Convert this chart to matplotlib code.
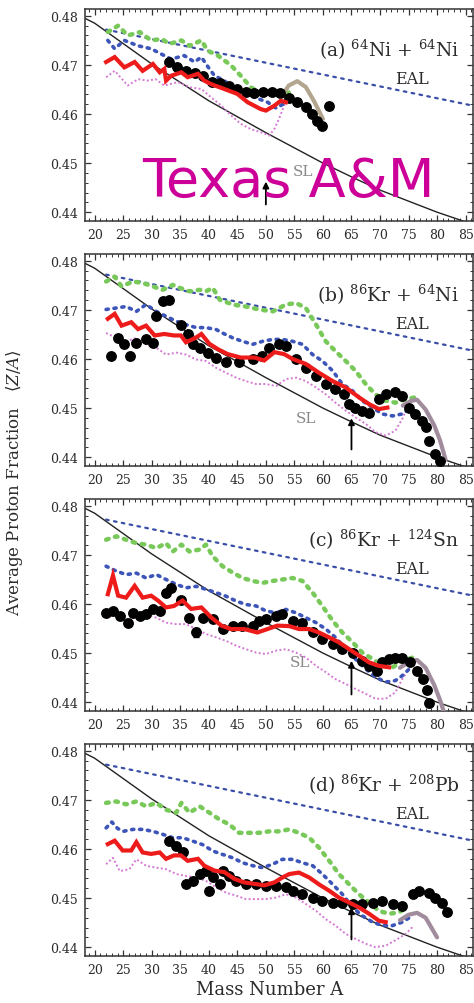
import matplotlib
matplotlib.use("Agg")
import matplotlib.pyplot as plt
import numpy as np

plt.rcParams['font.family'] = ['DejaVu Serif']
plt.rcParams['mathtext.fontset'] = 'dejavuserif'

# ---- data: (mass number A, <Z/A>) ----
a_exp = [(33.1, 0.4707), (34.5, 0.4695), (36, 0.4688), (37.5, 0.4683), (39, 0.4678),
         (40.5, 0.4665), (42, 0.4664), (43.5, 0.4658), (45, 0.4650), (46.5, 0.4645),
         (48, 0.4643), (49.5, 0.4645), (51, 0.4645), (52.5, 0.4643), (54, 0.4632),
         (55.5, 0.4625), (57, 0.4615), (58, 0.4600), (59, 0.4585), (59.8, 0.4575),
         (61, 0.4617)]
a_red = [(22, 0.4706), (23.5, 0.4716), (25.2, 0.4695), (27, 0.4706), (28.4, 0.4688),
         (30.2, 0.4702), (31.4, 0.4685), (32.2, 0.4692), (32.5, 0.4668), (33.4, 0.4678),
         (35.2, 0.4685), (36.3, 0.4675), (38.1, 0.4682), (39.2, 0.4668), (40.4, 0.4661),
         (42.7, 0.4651), (45, 0.4641), (46.8, 0.4624), (49.1, 0.4610), (50, 0.4607),
         (51.5, 0.4617), (52.6, 0.4627), (53.5, 0.4624)]
a_green = [(22.3, 0.4767), (24.1, 0.4780), (25.8, 0.4760), (27.9, 0.4767), (29.9, 0.4750),
           (31.7, 0.4753), (33.1, 0.4743), (35.2, 0.4750), (36.6, 0.4739), (38.7, 0.4750),
           (39.8, 0.4729), (41.6, 0.4719), (43.9, 0.4699), (45.6, 0.4678), (47.4, 0.4654),
           (49.1, 0.4644), (50.9, 0.4641), (52.6, 0.4637), (54, 0.4644)]
a_blue = [(22.3, 0.4750), (23.5, 0.4733), (25.2, 0.4750), (27.6, 0.4739), (29.9, 0.4733),
          (31.7, 0.4722), (33.4, 0.4712), (35.7, 0.4719), (37.5, 0.4706), (38.7, 0.4716),
          (39.8, 0.4697), (41, 0.4678), (42.7, 0.4668), (44.5, 0.4651), (46.2, 0.4644),
          (48, 0.4634), (50.3, 0.4624), (51.8, 0.4612), (53, 0.4620), (54, 0.4630)]
a_mag = [(22, 0.4675), (23.5, 0.4688), (25.8, 0.4658), (27.6, 0.4671), (29.3, 0.4668),
         (30.7, 0.4671), (32.2, 0.4658), (34.6, 0.4665), (36.9, 0.4654), (38.7, 0.4651),
         (40.4, 0.4634), (42.2, 0.4617), (43.9, 0.4597), (45.6, 0.4580), (47.4, 0.4569),
         (49.1, 0.4563), (50.6, 0.4556), (51.5, 0.4570), (52.3, 0.4590), (53.2, 0.4617),
         (54.1, 0.4641)]
a_proj = [(53, 0.4640), (54, 0.4658), (55.5, 0.4667), (57, 0.4655), (58.5, 0.4625), (60, 0.4590)]

b_exp = [(22.9, 0.4606), (24.1, 0.4643), (25.2, 0.4630), (26.1, 0.4606), (27.3, 0.4633),
         (29, 0.4640), (30.2, 0.4633), (30.8, 0.4687), (31.9, 0.4718), (33.1, 0.4721),
         (35.2, 0.4670), (36.3, 0.4650), (37.2, 0.4630), (38.4, 0.4623), (39.8, 0.4613),
         (41.3, 0.4603), (43, 0.4593), (45.3, 0.4593), (47.7, 0.4600), (49.4, 0.4606),
         (50.6, 0.4623), (52.3, 0.4630), (53.5, 0.4626), (55.3, 0.4600), (57, 0.4582),
         (58.8, 0.4566), (60.5, 0.4549), (62.2, 0.4539), (63.7, 0.4528), (64.6, 0.4508),
         (65.7, 0.4501), (66.9, 0.4495), (68.1, 0.4491), (69.8, 0.4518), (71, 0.4529),
         (72.7, 0.4532), (73.9, 0.4525), (75.1, 0.4501), (76.2, 0.4488), (77.4, 0.4474),
         (78, 0.4461), (78.6, 0.4433), (79.7, 0.4406), (80.5, 0.4392)]
b_red = [(22.3, 0.4682), (23.5, 0.4692), (24.7, 0.4668), (26.4, 0.4675), (27.6, 0.4661),
         (29, 0.4668), (30.5, 0.4648), (32.2, 0.4651), (33.9, 0.4648), (35.1, 0.4648),
         (36, 0.4634), (37.8, 0.4644), (38.7, 0.4651), (40.1, 0.4631), (41.6, 0.4620),
         (43.3, 0.4610), (45.6, 0.4603), (48, 0.4603), (49.7, 0.4597), (51.5, 0.4614),
         (53.2, 0.4610), (54.7, 0.4600), (57, 0.4590), (59.3, 0.4572), (61.7, 0.4555),
         (64, 0.4542), (66.3, 0.4522), (68.1, 0.4508), (69.8, 0.4498), (71.3, 0.4501)]
b_green = [(22, 0.4758), (23.5, 0.4768), (24.7, 0.4748), (26.7, 0.4758), (28.4, 0.4755),
           (30.2, 0.4748), (31.9, 0.4741), (33.7, 0.4751), (34.9, 0.4745), (36.6, 0.4738),
           (38.4, 0.4741), (39.5, 0.4738), (40.7, 0.4745), (41.9, 0.4721), (44.2, 0.4711),
           (46.5, 0.4707), (48.8, 0.4701), (51.2, 0.4697), (53.5, 0.4711), (55.3, 0.4714),
           (57, 0.4704), (58.8, 0.4670), (60.5, 0.4636), (62.2, 0.4616), (64, 0.4596),
           (65.7, 0.4576), (67.5, 0.4549), (69.2, 0.4528), (71, 0.4515), (72.7, 0.4511),
           (74.5, 0.4518), (76.2, 0.4522)]
b_blue = [(22, 0.4701), (23.8, 0.4704), (25.5, 0.4707), (27.3, 0.4697), (29, 0.4711),
          (30.8, 0.4697), (32.5, 0.4687), (34.3, 0.4677), (36, 0.4670), (37.8, 0.4664),
          (39.5, 0.4664), (41.3, 0.4660), (42.4, 0.4653), (44.2, 0.4643), (45.9, 0.4636),
          (47.7, 0.4630), (49.4, 0.4636), (51.2, 0.4640), (52.9, 0.4640), (54.7, 0.4636),
          (56.4, 0.4630), (58.2, 0.4609), (59.9, 0.4596), (61.7, 0.4576), (63.4, 0.4549),
          (65.2, 0.4535), (66.9, 0.4515), (68.7, 0.4501), (70.4, 0.4488), (72.2, 0.4484),
          (73.9, 0.4488), (75.1, 0.4498)]
b_mag = [(22, 0.4653), (23.8, 0.4643), (25.5, 0.4636), (27.3, 0.4643), (29, 0.4630),
         (30.8, 0.4623), (32.5, 0.4609), (34.3, 0.4613), (36, 0.4609), (37.8, 0.4599),
         (39.5, 0.4596), (41.3, 0.4582), (43, 0.4572), (44.8, 0.4562), (46.5, 0.4555),
         (48.3, 0.4549), (50, 0.4549), (51.8, 0.4545), (53.5, 0.4559), (55.3, 0.4562),
         (57, 0.4555), (58.8, 0.4542), (60.5, 0.4528), (62.2, 0.4511), (64, 0.4495),
         (65.7, 0.4481), (67.5, 0.4468), (69.2, 0.4451), (71, 0.4444), (72.7, 0.4454),
         (73.9, 0.4478), (74.8, 0.4501)]
b_proj = [(74, 0.4505), (75.5, 0.4515), (76.5, 0.4517), (78, 0.4497), (79.5, 0.4465),
          (80.5, 0.4435), (81.5, 0.4395)]

c_exp = [(22, 0.4582), (23.2, 0.4586), (24.4, 0.4576), (25.8, 0.4562), (26.7, 0.4582),
         (27.9, 0.4576), (29, 0.4579), (30.2, 0.4589), (31.4, 0.4586), (32.5, 0.4623),
         (33.4, 0.4633), (35.2, 0.4609), (36.6, 0.4572), (37.8, 0.4542), (38.9, 0.4572),
         (40.7, 0.4569), (42.4, 0.4549), (44.2, 0.4555), (45.9, 0.4555), (47.7, 0.4555),
         (48.8, 0.4566), (50, 0.4569), (51.8, 0.4576), (52.9, 0.4579), (54.7, 0.4566),
         (56.4, 0.4562), (58.2, 0.4542), (59.9, 0.4528), (61.7, 0.4518), (63.4, 0.4508),
         (65.2, 0.4501), (66.9, 0.4484), (68.1, 0.4474), (69.5, 0.4464), (70.4, 0.4481),
         (71.6, 0.4488), (72.7, 0.4491), (73.9, 0.4491), (75.3, 0.4481), (76.5, 0.4464),
         (77.5, 0.4447), (78.3, 0.4424), (78.6, 0.4398)]
c_red = [(22.3, 0.4620), (23.2, 0.4658), (24.1, 0.4617), (25.5, 0.4613), (27, 0.4637),
         (28.4, 0.4613), (29.9, 0.4617), (31.1, 0.4607), (32.5, 0.4593), (33.9, 0.4596),
         (35.4, 0.4607), (36.9, 0.4590), (38.7, 0.4593), (40.4, 0.4573), (42.2, 0.4556),
         (43.9, 0.4549), (46.2, 0.4549), (48.5, 0.4542), (50.3, 0.4549), (52, 0.4556),
         (54.1, 0.4555), (55.8, 0.4549), (57.6, 0.4549), (59.3, 0.4542), (61.1, 0.4532),
         (62.8, 0.4522), (64.6, 0.4508), (66.3, 0.4495), (68.1, 0.4481), (69.8, 0.4474),
         (71.6, 0.4471)]
c_green = [(22, 0.4731), (23.8, 0.4738), (25.5, 0.4731), (27.3, 0.4724), (29, 0.4721),
           (30.8, 0.4714), (32.5, 0.4724), (33.7, 0.4707), (35.2, 0.4721), (36.6, 0.4707),
           (38.4, 0.4711), (39.5, 0.4721), (40.7, 0.4697), (42.4, 0.4677), (44.2, 0.4664),
           (45.9, 0.4653), (47.7, 0.4647), (49.4, 0.4643), (51.2, 0.4647), (52.9, 0.4650),
           (54.7, 0.4653), (56.4, 0.4647), (58.2, 0.4623), (59.9, 0.4596), (61.7, 0.4566),
           (63.4, 0.4542), (65.2, 0.4522), (66.9, 0.4501), (68.7, 0.4488), (70.4, 0.4474),
           (72.2, 0.4471), (73.9, 0.4484), (75.7, 0.4491)]
c_blue = [(22, 0.4677), (23.8, 0.4667), (25.5, 0.4660), (27.3, 0.4663), (29, 0.4653),
          (30.8, 0.4660), (32.5, 0.4650), (34.3, 0.4640), (36, 0.4633), (37.8, 0.4636),
          (39.5, 0.4630), (41.3, 0.4623), (43, 0.4616), (44.8, 0.4606), (46.5, 0.4599),
          (48.3, 0.4596), (50, 0.4586), (51.8, 0.4582), (53.5, 0.4589), (55.3, 0.4582),
          (57, 0.4572), (58.8, 0.4562), (60.5, 0.4549), (62.2, 0.4532), (64, 0.4508),
          (65.7, 0.4488), (67.5, 0.4468), (69.2, 0.4451), (71, 0.4441), (72.7, 0.4444),
          (73.9, 0.4454), (75.7, 0.4474)]
c_mag = [(22, 0.4572), (23.8, 0.4579), (25.5, 0.4569), (27.3, 0.4576), (29, 0.4579),
         (30.8, 0.4572), (32.5, 0.4562), (34.3, 0.4559), (36, 0.4559), (37.8, 0.4549),
         (39.5, 0.4539), (41.3, 0.4532), (43, 0.4525), (44.8, 0.4515), (46.5, 0.4508),
         (48.3, 0.4501), (50, 0.4498), (51.8, 0.4505), (53.5, 0.4508), (55.3, 0.4501),
         (57, 0.4491), (58.8, 0.4474), (60.5, 0.4461), (62.2, 0.4447), (64, 0.4437),
         (65.7, 0.4427), (67.5, 0.4417), (69.2, 0.4407), (71, 0.4407), (72.7, 0.4420),
         (73.9, 0.4447), (75.1, 0.4468)]
c_proj = [(73.5, 0.4470), (75, 0.4482), (76.5, 0.4486), (78, 0.4470), (79.5, 0.4435),
          (80.5, 0.4405), (81.2, 0.4380)]

d_exp = [(33.1, 0.4616), (34.3, 0.4606), (35.4, 0.4593), (36, 0.4528), (37.2, 0.4535),
         (38.4, 0.4549), (39.5, 0.4555), (40.1, 0.4515), (40.7, 0.4542), (41.9, 0.4528),
         (42.4, 0.4555), (43.6, 0.4545), (44.8, 0.4535), (46.5, 0.4528), (48.3, 0.4528),
         (50, 0.4525), (51.8, 0.4525), (53.5, 0.4522), (54.7, 0.4515), (56.4, 0.4508),
         (58.2, 0.4501), (59.9, 0.4495), (61.7, 0.4491), (63.4, 0.4491), (65.2, 0.4488),
         (66.9, 0.4488), (68.7, 0.4491), (70.4, 0.4495), (72.2, 0.4488), (73.9, 0.4484),
         (75.7, 0.4508), (76.8, 0.4515), (78.6, 0.4511), (79.7, 0.4501), (80.9, 0.4491),
         (81.8, 0.4471)]
d_red = [(22.3, 0.4610), (23.5, 0.4617), (24.9, 0.4597), (26.4, 0.4597), (27.3, 0.4614),
         (28.4, 0.4593), (29.9, 0.4590), (31.4, 0.4593), (32.5, 0.4580), (33.9, 0.4587),
         (35.1, 0.4587), (36.3, 0.4576), (38.1, 0.4580), (39.2, 0.4566), (41, 0.4556),
         (42.7, 0.4553), (44.5, 0.4539), (46.2, 0.4532), (48, 0.4529), (49.7, 0.4526),
         (51.5, 0.4532), (52.9, 0.4542), (54.1, 0.4549), (55.8, 0.4552), (57.6, 0.4542),
         (59.3, 0.4528), (61.1, 0.4515), (62.8, 0.4501), (64.6, 0.4491), (66.3, 0.4481),
         (68.1, 0.4468), (69.8, 0.4454), (71, 0.4451)]
d_green = [(22, 0.4694), (23.8, 0.4697), (25.5, 0.4691), (27.3, 0.4697), (29, 0.4687),
           (30.8, 0.4694), (32.5, 0.4680), (34.3, 0.4674), (35.2, 0.4694), (36.6, 0.4674),
           (38.4, 0.4687), (40.1, 0.4674), (41.9, 0.4660), (43.6, 0.4650), (45.3, 0.4633),
           (47.1, 0.4633), (48.8, 0.4633), (50.6, 0.4636), (52.3, 0.4636), (54.1, 0.4640),
           (55.8, 0.4633), (57.6, 0.4623), (59.3, 0.4603), (61.1, 0.4576), (62.8, 0.4549),
           (64.6, 0.4528), (66.3, 0.4508), (68.1, 0.4491), (69.8, 0.4474), (71.6, 0.4468),
           (73.3, 0.4471), (74.8, 0.4481)]
d_blue = [(22, 0.4643), (23, 0.4655), (24, 0.4642), (25, 0.4636), (26.7, 0.4640),
          (28.4, 0.4640), (30.2, 0.4636), (31.9, 0.4630), (33.7, 0.4623), (35.4, 0.4623),
          (37.2, 0.4616), (38.9, 0.4609), (40.7, 0.4596), (42.4, 0.4589), (44.2, 0.4582),
          (45.9, 0.4572), (47.7, 0.4566), (49.4, 0.4562), (51.2, 0.4569), (52.9, 0.4579),
          (54.7, 0.4579), (56.4, 0.4572), (58.2, 0.4566), (59.9, 0.4549), (61.7, 0.4528),
          (63.4, 0.4508), (65.2, 0.4481), (66.9, 0.4464), (68.7, 0.4451), (70.4, 0.4444),
          (72.2, 0.4444), (73.9, 0.4451), (75.7, 0.4464)]
d_mag = [(22, 0.4569), (23.2, 0.4582), (24.4, 0.4555), (26.1, 0.4559), (27.3, 0.4579),
         (29, 0.4566), (30.8, 0.4562), (32.5, 0.4559), (34.3, 0.4549), (36, 0.4545),
         (37.8, 0.4542), (39.5, 0.4535), (41.3, 0.4522), (43, 0.4511), (44.8, 0.4505),
         (46.5, 0.4498), (48.3, 0.4498), (50, 0.4498), (51.8, 0.4501), (53.5, 0.4508),
         (55.3, 0.4501), (57, 0.4488), (58.8, 0.4474), (60.5, 0.4457), (62.2, 0.4444),
         (64, 0.4427), (65.7, 0.4417), (67.5, 0.4407), (69.2, 0.4400), (71, 0.4403),
         (72.7, 0.4414), (74.5, 0.4427), (75.7, 0.4441)]
d_proj = [(73.5, 0.4455), (75, 0.4466), (76.5, 0.4470), (78, 0.4460), (79, 0.4440), (80, 0.4420)]

# stability line (SL) and EAL
sl_line = [(18.3, 0.4795), (20, 0.4785), (30, 0.4702), (40, 0.4627), (50, 0.4562),
           (60, 0.4500), (65, 0.4472), (70, 0.4445), (80, 0.4400), (86.3, 0.4375)]
eal_line = [(22, 0.4772), (86.3, 0.4617)]

# errorbars seen on a few points: (A, Z/A, err)
c_err = [(37.8, 0.4542, 0.0010)]
d_err = [(40.1, 0.4515, 0.0006)]

panel_labels = [r'(a) $^{64}$Ni + $^{64}$Ni', r'(b) $^{86}$Kr + $^{64}$Ni',
                r'(c) $^{86}$Kr + $^{124}$Sn', r'(d) $^{86}$Kr + $^{208}$Pb']
arrow_A = [50, 65, 65, 65]
arrow_tip = [0.4468, 0.4485, 0.4490, 0.4487]
sl_pos = [(56.5, 0.4484), (57, 0.4480), (56, 0.4482), None]
proj_colors = ['#b3a58e', '#a08c9c', '#a08c9c', '#a08c9c']

xticks = list(range(20, 90, 5))
yticks = [0.44, 0.45, 0.46, 0.47, 0.48]
ytick_labels = ['0.44', '0.45', '0.46', '0.47', '0.48']

panels = [
    (a_exp, a_red, a_green, a_blue, a_mag, a_proj, []),
    (b_exp, b_red, b_green, b_blue, b_mag, b_proj, []),
    (c_exp, c_red, c_green, c_blue, c_mag, c_proj, c_err),
    (d_exp, d_red, d_green, d_blue, d_mag, d_proj, d_err),
]


def xy(pts):
    arr = np.array(pts)
    return arr[:, 0], arr[:, 1]


W, H = 474, 1004
fig = plt.figure(figsize=(W / 100, H / 100), dpi=100)
tops = [10, 255, 500, 745]
ph = 212
txt = '#2b2b2b'

for i, (exp, red, green, blue, mag, proj, err) in enumerate(panels):
    ax = fig.add_axes([85 / W, 1 - (tops[i] + ph) / H, 388 / W, ph / H])
    ax.set_xlim(18.3, 86.3)
    ax.set_ylim(0.4382, 0.4814)

    ax.plot(*xy(sl_line), color='#222222', lw=1.0, zorder=2)
    ax.plot(*xy(eal_line), color='#3a4ea8', lw=1.6, ls=(0, (1.2, 2.4)),
            dash_capstyle='round', zorder=2)
    ax.plot(*xy(mag), color='#d47ad4', lw=1.4, ls=(0, (1, 1.2)), zorder=3)
    ax.plot(*xy(blue), color='#3d55b8', lw=2.6, ls=(0, (0.6, 1.6)),
            dash_capstyle='round', zorder=3)
    ax.plot(*xy(green), color='#78c95a', lw=3.2, ls=(0, (0.6, 1.5)),
            dash_capstyle='round', zorder=3)
    ax.plot(*xy(proj), color=proj_colors[i], lw=3.0, zorder=3, solid_capstyle='round')
    ax.plot(*xy(exp), 'o', color='black', ms=6.8, zorder=4)
    for A, z, e in err:
        ax.errorbar([A], [z], yerr=[e], fmt='none', ecolor='black', elinewidth=1,
                    capsize=2, zorder=4)
    ax.plot(*xy(red), color='#ee1b1b', lw=3.0, zorder=5, solid_joinstyle='miter')

    ax.annotate('', xy=(arrow_A[i], arrow_tip[i]), xytext=(arrow_A[i], 0.4410),
                arrowprops=dict(arrowstyle='-|>', color='black', lw=1.3,
                                mutation_scale=9), zorder=6)

    ax.text(0.965, 0.81, panel_labels[i], transform=ax.transAxes, ha='right',
            va='center', fontsize=13.5, color=txt)
    ax.text(75.6, 0.4672, 'EAL', ha='center', va='center', fontsize=11.5, color=txt)
    if sl_pos[i] is not None:
        ax.text(sl_pos[i][0], sl_pos[i][1], 'SL', ha='center', va='center',
                fontsize=11, color='#888888', zorder=1)

    ax.set_xticks(xticks)
    ax.set_xticks(np.arange(19, 87, 1), minor=True)
    ax.set_yticks(yticks)
    ax.set_yticklabels(ytick_labels)
    ax.set_yticks(np.arange(0.44, 0.4815, 0.002), minor=True)
    ax.tick_params(which='both', direction='in', top=True, right=True,
                   labelsize=9, colors='#333333', labelcolor=txt)
    ax.tick_params(which='major', length=4.5, width=0.9, pad=5)
    ax.tick_params(which='minor', length=2.2, width=0.7)
    for s in ax.spines.values():
        s.set_linewidth(1.1)
        s.set_color('#333333')

fig.text(15 / W, 1 - 483 / H, r'Average Proton Fraction   $\langle Z/A\rangle$',
         rotation=90, ha='center', va='center', fontsize=12, color=txt)
fig.text(270 / W, 1 - 990 / H, 'Mass Number A', ha='center', va='center',
         fontsize=13, color=txt)
fig.text(142 / W, 1 - 197 / H, 'Texas A&M', family='DejaVu Sans', fontsize=39,
         color='#cc0099', ha='left', va='baseline', zorder=10)

fig.savefig('out.png', dpi=100)
